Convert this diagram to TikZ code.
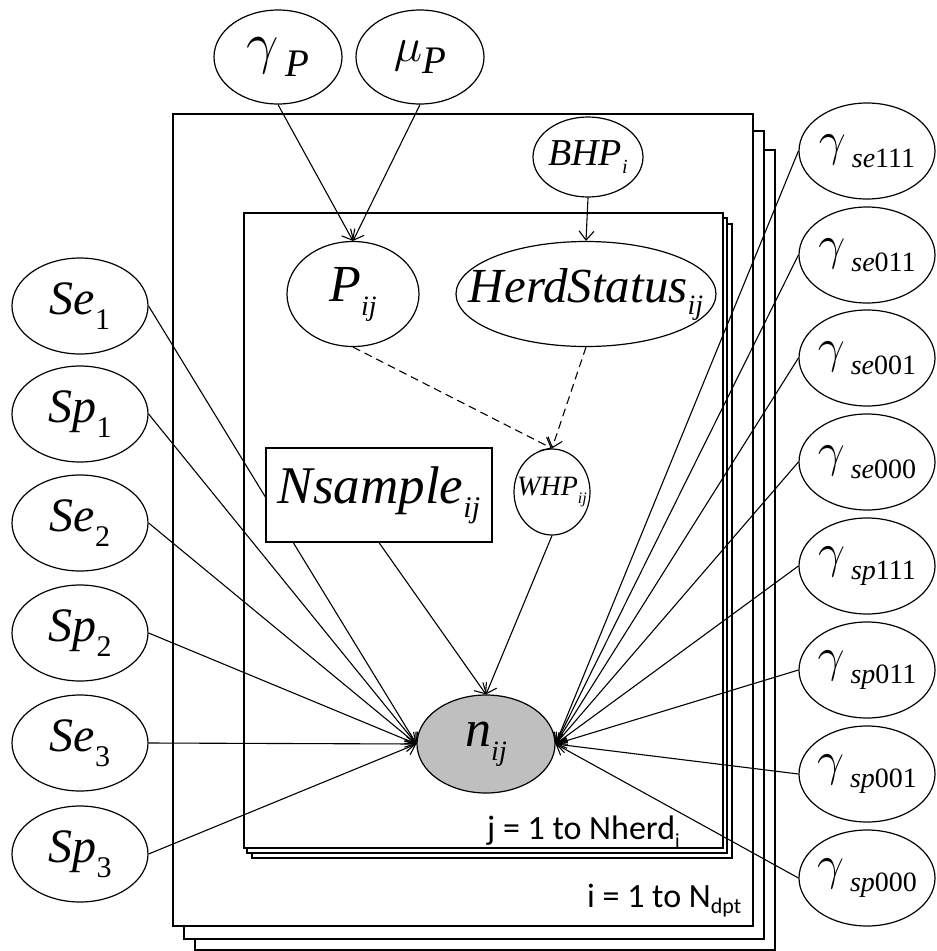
\documentclass[tikz,border=0pt]{standalone}
\usepackage{fontspec}
\setmainfont{Liberation Serif}
\newfontfamily\tnr{Liberation Serif}
\usetikzlibrary{shapes.geometric,arrows.meta}
\pgfdeclarelayer{bglayer}
\pgfdeclarelayer{edgelayer}
\pgfsetlayers{bglayer,edgelayer,main}
\newcommand\glab[5]{{\tnr\itshape\fontsize{#3}{#3}\selectfont #1}\raisebox{-#5}{\tnr\fontsize{#4}{#4}\selectfont #2}}
\newcommand\gsub[2]{\scalebox{4}{\fontsize{12pt}{12pt}\selectfont$\gamma$}\hspace{6pt}\raisebox{-12pt}{\tnr\fontsize{28pt}{28pt}\selectfont{\itshape #1}#2}}
\begin{document}
\begin{tikzpicture}[x=1pt,y=-1pt,
  plate/.style={draw, fill=white, line width=1.5pt},
  ell/.style={draw, ellipse, fill=white, inner sep=0pt, line width=1.2pt},
  sidenode/.style={ell, minimum width=136pt, minimum height=96pt},
  txt/.style={inner sep=0pt},
  edge/.style={line width=1.1pt, -{Straight Barb[length=9pt,width=15pt,line width=1.1pt]}},
  dashedge/.style={edge, dash pattern=on 8pt off 5pt},
  platelab/.style={anchor=base west, inner sep=0pt}
]
\useasboundingbox (0,0) rectangle (937,951);

% plates
\begin{pgfonlayer}{bglayer}
\draw[plate] (195,150) rectangle (775,950);
\draw[plate] (184,131) rectangle (764,939);
\draw[plate] (173,114) rectangle (753,926);
\draw[plate] (252,224) rectangle (732,858);
\draw[plate] (247,218) rectangle (727,853);
\draw[plate] (244,213) rectangle (723,848);
\end{pgfonlayer}

\node[platelab] (jlab) at (487,839) {\fontspec{Carlito}\fontsize{34pt}{34pt}\selectfont j = 1 to Nherd\raisebox{-8pt}{\fontsize{20pt}{20pt}\selectfont i}};
\node[platelab] (ilab) at (587,907) {\fontspec{Carlito}\fontsize{34pt}{34pt}\selectfont i = 1 to N\raisebox{-6pt}{\fontsize{22pt}{22pt}\selectfont dpt}};

% top nodes
\node[ell, minimum width=128pt, minimum height=94pt] (gp) at (278,57) {};
\node[txt] (gpt) at (gp.center) {\scalebox{4}{\fontsize{14pt}{14pt}\selectfont$\gamma$}\hspace{6pt}\raisebox{-14pt}{\tnr\itshape\fontsize{39pt}{39pt}\selectfont P}};
\node[ell, minimum width=128pt, minimum height=94pt] (mp) at (420,57) {};
\node[txt] (mpt) at (mp.center) {\scalebox{4}{\fontsize{13pt}{13pt}\selectfont$\mu$}\raisebox{-12pt}{\tnr\itshape\fontsize{39pt}{39pt}\selectfont P}};
\node[ell, minimum width=110pt, minimum height=80pt] (bhp) at (588,157) {};
\node[txt] (bhpt) at (bhp.center) {\glab{BHP}{\itshape i}{38pt}{20pt}{8pt}};

% inner nodes
\node[ell, minimum width=132pt, minimum height=105pt] (pij) at (353,294) {};
\node[txt] (pijt) at (pij.center) {\glab{P}{\itshape ij}{52pt}{28pt}{14pt}};
\node[ell, minimum width=260pt, minimum height=105pt] (hs) at (586,294) {};
\node[txt] (hst) at (hs.center) {\glab{HerdStatus}{\itshape ij}{49pt}{28pt}{12pt}};
\node[draw, fill=white, line width=1.2pt, inner sep=0pt, minimum width=226pt, minimum height=94pt] (ns) at (379,495) {};
\node[txt] (nst) at (ns.center) {\glab{Nsample}{\itshape ij}{53pt}{30pt}{14pt}};
\node[ell, minimum width=76pt, minimum height=86pt] (whp) at (552,492) {};
\node[txt] (whpt) at (whp.center) {\glab{WHP}{\itshape ij}{28pt}{16pt}{8pt}};
\node[ell, fill=gray!50, minimum width=138pt, minimum height=98pt] (nij) at (486,744) {};
\node[txt] (nijt) at (nij.center) {\glab{n}{\itshape ij}{52pt}{28pt}{14pt}};

% left nodes
\foreach \nm/\a/\b/\y in {se1/Se/1/306, sp1/Sp/1/414, se2/Se/2/523, sp2/Sp/2/633, se3/Se/3/743, sp3/Sp/3/854}{
  \node[sidenode] (\nm) at (80,\y) {};
  \node[txt] (\nm t) at (\nm.center) {\glab{\a}{\b}{48pt}{30pt}{15pt}};
}

% right nodes
\foreach \nm/\a/\b/\y in {g1/se/111/151, g2/se/011/255, g3/se/001/358, g4/se/000/462, g5/sp/111/566, g6/sp/011/670, g7/sp/001/774, g8/sp/000/878}{
  \node[sidenode] (\nm) at (867,\y) {};
  \node[txt] (\nm t) at (\nm.center) {\gsub{\a}{\b}};
}

% edges
\begin{pgfonlayer}{edgelayer}
\draw[edge] (gp.south) -- (pij.north);
\draw[edge] (mp.south) -- (pij.north);
\draw[edge] (bhp.south) -- (hs.north);
\draw[dashedge] (pij.south) -- (whp.north);
\draw[dashedge] (hs.south) -- (whp.north);
\draw[edge] (ns.south) -- (nij.north);
\draw[edge] (whp.south) -- (nij.north);
\foreach \n in {se1,sp1,se2,sp2,se3,sp3}
  \draw[edge] (\n.east) -- (nij.west);
\foreach \n in {g1,g2,g3,g4,g5,g6,g7,g8}
  \draw[edge] (\n.west) -- (nij.east);
\end{pgfonlayer}
\end{tikzpicture}
\end{document}
